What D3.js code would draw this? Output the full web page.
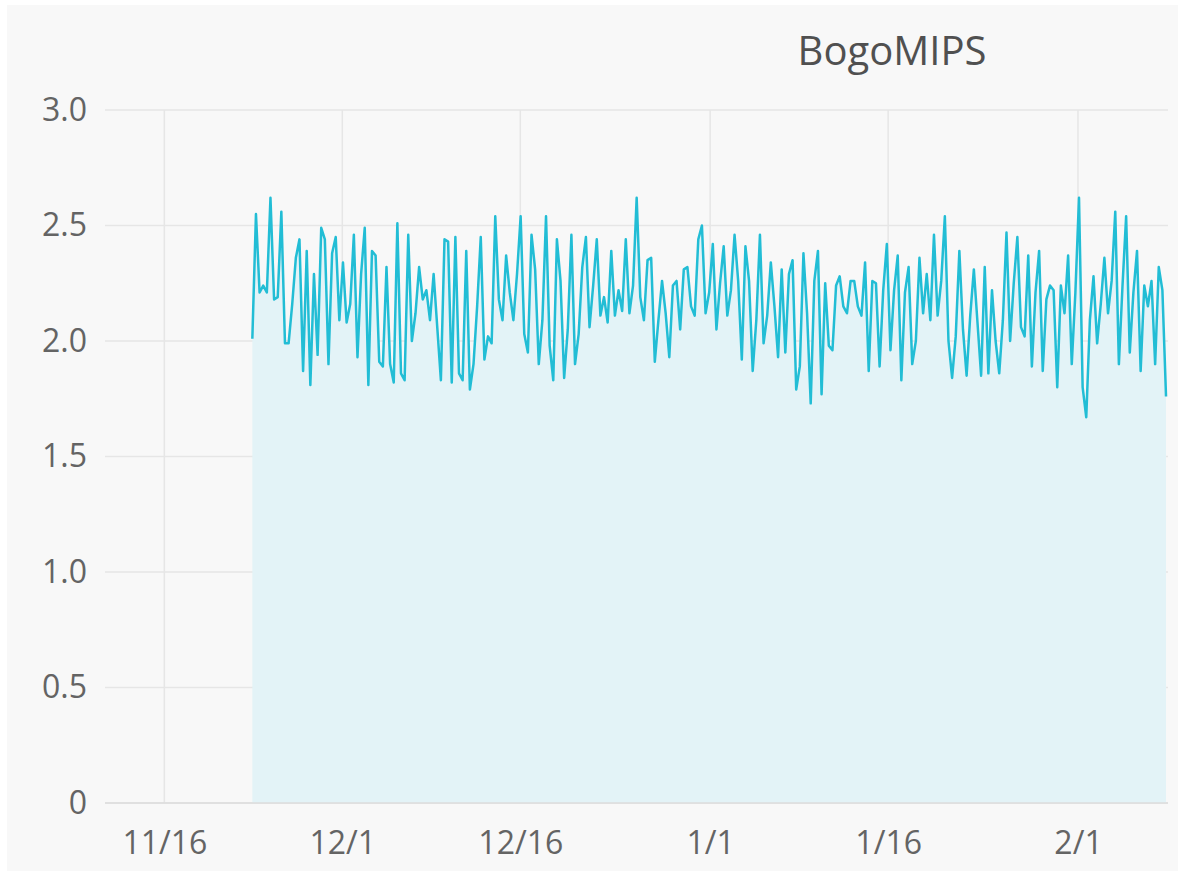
<!DOCTYPE html>
<html lang="en">
<head>
    <meta charset="UTF-8">
    <title>BogoMIPS</title>
    <script src="https://d3js.org/d3.v7.min.js"></script>
    <style>
        body {
            margin: 0;
            padding: 0;
            background-color: white;
            font-family: 'Open Sans', 'Noto Sans', sans-serif;
        }
        .grid line {
            stroke: #e6e6e6;
            stroke-width: 1.5px;
        }
        .axis text {
            fill: #646464;
            font-size: 32px;
            font-family: 'Open Sans', sans-serif;
        }
    </style>
</head>
<body>
    <div id="chart"></div>

    <script>
        // chart data
        const title = "BogoMIPS";
        const seriesStart = "2015-11-23T10:00:00Z";
        const seriesEnd = "2016-02-08T10:00:00Z";
        const xDomain = ["2015-11-11T00:00:00Z", "2016-02-08T14:00:00Z"];
        const xTickDates = ["2015-11-16", "2015-12-01", "2015-12-16", "2016-01-01", "2016-01-16", "2016-02-01"];
        const xTickLabels = ["11/16", "12/1", "12/16", "1/1", "1/16", "2/1"];
        const yTicks = [0, 0.5, 1.0, 1.5, 2.0, 2.5, 3.0];

        // bogomips samples, evenly spaced from seriesStart to seriesEnd
        const bogomips = [
            2.01, 2.55, 2.21, 2.24, 2.21, 2.62, 2.18, 2.19, 2.56, 1.99, 1.99, 2.16, 2.36, 2.44, 1.87, 2.39,
            1.81, 2.29, 1.94, 2.49, 2.44, 1.90, 2.38, 2.45, 2.09, 2.34, 2.08, 2.16, 2.46, 1.93, 2.29, 2.49,
            1.81, 2.39, 2.37, 1.91, 1.89, 2.32, 1.90, 1.82, 2.51, 1.86, 1.83, 2.46, 2.00, 2.12, 2.32, 2.18,
            2.22, 2.09, 2.29, 2.06, 1.83, 2.44, 2.43, 1.82,
            2.45, 1.86, 1.83, 2.39, 1.79, 1.90, 2.15, 2.45, 1.92, 2.02, 1.99, 2.54, 2.18, 2.09, 2.37, 2.21,
            2.09, 2.29, 2.54, 2.03, 1.95, 2.46, 2.31, 1.90, 2.09, 2.54, 1.98, 1.83, 2.44, 2.26, 1.84, 2.05,
            2.46, 1.90, 2.03, 2.32, 2.45, 2.06, 2.24, 2.44, 2.11, 2.19, 2.08, 2.39, 2.11, 2.22, 2.13, 2.44,
            2.12, 2.24, 2.62, 2.19, 2.09, 2.35, 2.36, 1.91, 2.09, 2.26, 2.12, 1.93, 2.24, 2.26, 2.05, 2.31,
            2.32, 2.15, 2.11, 2.44, 2.50,
            2.12, 2.21, 2.42, 2.05, 2.25, 2.41, 2.11, 2.22, 2.46, 2.26, 1.92, 2.41, 2.26, 1.87, 2.09, 2.46,
            1.99, 2.11, 2.34, 2.15, 1.93, 2.31, 1.95, 2.29, 2.35, 1.79, 1.89, 2.38, 2.12, 1.73, 2.26, 2.39,
            1.77, 2.25, 1.98, 1.96, 2.24, 2.28, 2.15, 2.12, 2.26, 2.26, 2.15, 2.11, 2.34, 1.87, 2.26, 2.25,
            1.89, 2.22, 2.42, 1.96, 2.22, 2.37, 1.83, 2.21, 2.32, 1.90, 2.00, 2.36, 2.12, 2.29,
            2.09, 2.46, 2.11, 2.26, 2.54, 2.00, 1.84, 2.02, 2.39, 2.05, 1.85, 2.11, 2.31, 2.08, 1.85, 2.32,
            1.86, 2.22, 2.00, 1.86, 2.09, 2.47, 2.00, 2.25, 2.45, 2.06, 2.02, 2.37, 1.89, 2.21, 2.39, 1.87,
            2.18, 2.24, 2.22, 1.80, 2.24, 2.12, 2.37, 1.90, 2.21, 2.62, 1.80, 1.67, 2.09, 2.28, 1.99, 2.16,
            2.36, 2.12, 2.26, 2.56, 1.90, 2.24, 2.54, 1.95, 2.21, 2.39, 1.87, 2.24, 2.15, 2.26, 1.90, 2.32,
            2.22, 1.76
        ];

        const width = 1178;
        const height = 871;
        const margin = {top: 110, right: 10, bottom: 68, left: 105};

        const t0 = new Date(seriesStart).getTime();
        const t1 = new Date(seriesEnd).getTime();
        const step = (t1 - t0) / (bogomips.length - 1);
        const data = bogomips.map((v, i) => ({date: new Date(t0 + i * step), value: v}));

        const svg = d3.select("#chart").append("svg")
            .attr("width", width)
            .attr("height", height);

        // panel background
        svg.append("rect")
            .attr("x", 7).attr("y", 5)
            .attr("width", width - 7).attr("height", height - 5)
            .attr("fill", "#f8f8f8");

        const x = d3.scaleUtc()
            .domain(xDomain.map(d => new Date(d)))
            .range([margin.left, width - margin.right]);

        const y = d3.scaleLinear()
            .domain([0, 3])
            .range([height - margin.bottom, margin.top]);

        const tickDates = xTickDates.map(d => new Date(d + "T00:00:00Z"));

        // gridlines
        svg.append("g").attr("class", "grid")
            .selectAll("line").data(yTicks).join("line")
            .attr("x1", margin.left).attr("x2", width - margin.right)
            .attr("y1", d => y(d)).attr("y2", d => y(d));

        svg.append("g").attr("class", "grid")
            .selectAll("line").data(tickDates).join("line")
            .attr("x1", d => x(d)).attr("x2", d => x(d))
            .attr("y1", y(3)).attr("y2", y(0));

        // area + line
        const area = d3.area()
            .x(d => x(d.date))
            .y0(y(0))
            .y1(d => y(d.value));

        const line = d3.line()
            .x(d => x(d.date))
            .y(d => y(d.value));

        svg.append("path")
            .datum(data)
            .attr("d", area)
            .attr("fill", "#e3f3f7");

        svg.append("path")
            .datum(data)
            .attr("d", line)
            .attr("fill", "none")
            .attr("stroke", "#22bdd5")
            .attr("stroke-width", 2.5)
            .attr("stroke-linejoin", "round");

        // baseline
        svg.append("line")
            .attr("x1", margin.left).attr("x2", width - margin.right)
            .attr("y1", y(0)).attr("y2", y(0))
            .attr("stroke", "#dcdcdc")
            .attr("stroke-width", 1.5);

        // axes
        const yAxis = d3.axisLeft(y)
            .tickValues(yTicks)
            .tickSize(0)
            .tickPadding(18)
            .tickFormat(d => d === 0 ? "0" : d3.format(".1f")(d));

        svg.append("g")
            .attr("class", "axis")
            .attr("transform", `translate(${margin.left},0)`)
            .call(yAxis)
            .call(g => g.select(".domain").remove());

        const xAxis = d3.axisBottom(x)
            .tickValues(tickDates)
            .tickSize(0)
            .tickPadding(28)
            .tickFormat((d, i) => xTickLabels[i]);

        svg.append("g")
            .attr("class", "axis")
            .attr("transform", `translate(0,${height - margin.bottom})`)
            .call(xAxis)
            .call(g => g.select(".domain").remove());

        // title
        svg.append("text")
            .attr("x", 892)
            .attr("y", 65)
            .attr("text-anchor", "middle")
            .attr("fill", "#505050")
            .style("font-size", "40px")
            .style("font-family", "'Open Sans', sans-serif")
            .text(title);
    </script>
</body>
</html>
